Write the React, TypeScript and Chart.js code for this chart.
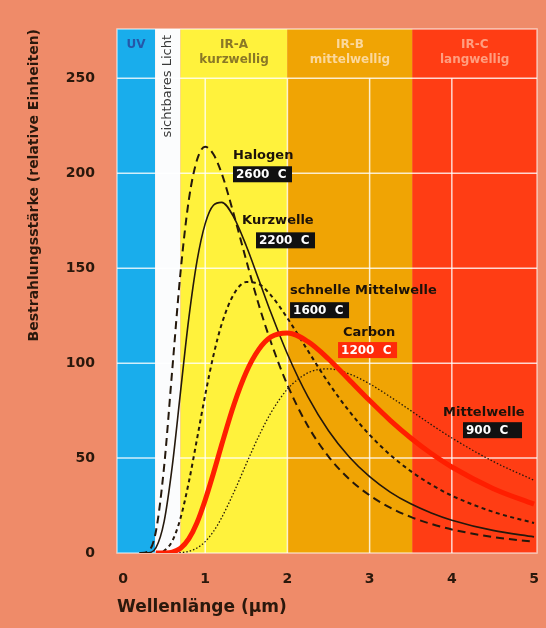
import React, { useEffect, useRef } from "react";
import { Chart, registerables } from "chart.js";

Chart.register(...registerables);

// ---- data ----
const wavelengths = [0.2, 0.3, 0.4, 0.5, 0.6, 0.7, 0.8, 0.9, 1.0, 1.1, 1.2, 1.35, 1.5, 1.65, 1.8, 2.0, 2.25, 2.5, 2.75, 3.0, 3.25, 3.5, 3.75, 4.0, 4.5, 5.0];
const halogen2600 = [0, 0.7, 11.3, 45.5, 97, 148, 185.8, 207, 214, 210, 200, 178, 154, 131, 111, 88.5, 66.8, 50.8, 39, 30.4, 23.9, 19, 15.3, 12.4, 8.4, 5.9];
const kurzwelle2200 = [0, 0.1, 2.7, 16.5, 46, 85, 123.4, 153.7, 173.5, 183.2, 184.7, 176.7, 161.7, 144.2, 126.5, 104.8, 82.2, 64.4, 50.7, 40.2, 32.1, 25.9, 21.1, 17.3, 11.9, 8.5];
const schnelleMittelwelle1600 = [null, null, 0.1, 1.2, 6.4, 18.4, 37.2, 60, 83.2, 104, 120.5, 136.5, 142.7, 141.7, 135.7, 123.7, 106.5, 89.6, 74.8, 62.2, 51.7, 43.1, 36, 30.2, 21.7, 15.8];
const carbon1200 = [null, null, 0, 0.05, 0.5, 2.5, 7.4, 15.9, 27.9, 42, 57, 78.2, 95.3, 107.1, 113.8, 115.9, 111.3, 102.2, 91.3, 80.3, 69.9, 60.6, 52.4, 45.3, 34, 25.7];
const mittelwelle900 = [null, null, null, null, 0, 0.2, 0.85, 2.6, 6, 11.3, 18.6, 32.1, 47, 61.4, 73.9, 86.3, 94.9, 97, 94.4, 89.1, 82.3, 75, 67.6, 60.6, 48.3, 38.3];

const seriesNames = ["Halogen", "Kurzwelle", "schnelle Mittelwelle", "Carbon", "Mittelwelle"];
const seriesTemps = ["2600  C", "2200  C", "1600  C", "1200  C", "900  C"];

const xTicks = [0, 1, 2, 3, 4, 5];
const yTicks = [0, 50, 100, 150, 200, 250];

// spectral bands (wavelength limits in µm)
const bandStarts = [-0.073, 0.39, 0.7, 2.0, 3.52];
const bandEnds = [0.39, 0.7, 2.0, 3.52, 5.036];
const bandTitle1 = ["UV", "", "IR-A", "IR-B", "IR-C"];
const bandTitle2 = ["", "sichtbares Licht", "kurzwellig", "mittelwellig", "langwellig"];

// ---- styling ----
const BG = "#EF8B69";
const TEXT = "#2a180c";
const FONT = "'DejaVu Sans', 'Liberation Sans', Arial, sans-serif";
const bandColors = ["#19ADEC", "#FBFCFD", "#FFF23C", "#F0A404", "#FF3D14"];
const bandTextColors = ["#2557a8", "#3a3a3a", "#8a7826", "#fbd89c", "#ff9e80"];
const labelSpots = [
  { nx: 1.338, ny: 209.5, bx: 1.338, by: 203.7, box: "#111111" },
  { nx: 1.448, ny: 175.3, bx: 1.618, by: 168.9, box: "#111111" },
  { nx: 2.032, ny: 138.4, bx: 2.032, by: 132.1, box: "#111111" },
  { nx: 2.676, ny: 116.3, bx: 2.616, by: 111.1, box: "#ff2a0a" },
  { nx: 3.893, ny: 74.2, bx: 4.136, by: 68.9, box: "#111111" },
];

const X_MIN = -0.073;
const X_MAX = 5.036;
const Y_MAX = 276;

const backdropPlugin = {
  id: "backdrop",
  beforeDraw(chart: any) {
    const { ctx, width, height } = chart;
    ctx.save();
    ctx.fillStyle = BG;
    ctx.fillRect(0, 0, width, height);
    ctx.restore();
  },
  beforeDatasetsDraw(chart: any) {
    const { ctx, chartArea: a, scales } = chart;
    const xs = scales.x;
    const ys = scales.y;
    ctx.save();
    for (let i = 0; i < bandStarts.length; i++) {
      const x0 = Math.max(a.left, xs.getPixelForValue(bandStarts[i]));
      const x1 = Math.min(a.right, xs.getPixelForValue(bandEnds[i]));
      ctx.fillStyle = bandColors[i];
      ctx.fillRect(x0, a.top, x1 - x0, a.bottom - a.top);
    }
    ctx.strokeStyle = "rgba(255,255,255,0.8)";
    ctx.lineWidth = 1.5;
    const yTop = ys.getPixelForValue(250);
    for (const v of [50, 100, 150, 200, 250]) {
      const py = ys.getPixelForValue(v);
      ctx.beginPath();
      ctx.moveTo(a.left, py);
      ctx.lineTo(a.right, py);
      ctx.stroke();
    }
    for (const v of [1, 2, 3, 4]) {
      const px = xs.getPixelForValue(v);
      ctx.beginPath();
      ctx.moveTo(px, a.bottom);
      ctx.lineTo(px, yTop);
      ctx.stroke();
    }
    ctx.strokeStyle = "rgba(255,255,255,0.6)";
    ctx.lineWidth = 1.5;
    ctx.strokeRect(a.left, a.top, a.right - a.left, a.bottom - a.top);
    ctx.textAlign = "center";
    ctx.textBaseline = "middle";
    ctx.font = `bold 12px ${FONT}`;
    for (let i = 0; i < bandStarts.length; i++) {
      const x0 = Math.max(a.left, xs.getPixelForValue(bandStarts[i]));
      const x1 = Math.min(a.right, xs.getPixelForValue(bandEnds[i]));
      const cx = (x0 + x1) / 2;
      ctx.fillStyle = bandTextColors[i];
      if (i === 1) {
        ctx.save();
        ctx.font = `13px ${FONT}`;
        ctx.translate(cx, a.top + 6);
        ctx.rotate(-Math.PI / 2);
        ctx.textAlign = "right";
        ctx.fillText(bandTitle2[i], 0, 0);
        ctx.restore();
        continue;
      }
      if (bandTitle1[i]) ctx.fillText(bandTitle1[i], cx, a.top + 16);
      if (bandTitle2[i]) ctx.fillText(bandTitle2[i], cx, a.top + 31);
    }
    ctx.restore();
  },
  afterDatasetsDraw(chart: any) {
    const { ctx, scales } = chart;
    const xs = scales.x;
    const ys = scales.y;
    ctx.save();
    for (let i = 0; i < seriesNames.length; i++) {
      const s = labelSpots[i];
      ctx.font = `bold 13px ${FONT}`;
      ctx.fillStyle = "#1c120a";
      ctx.textAlign = "left";
      ctx.textBaseline = "middle";
      ctx.fillText(seriesNames[i], xs.getPixelForValue(s.nx), ys.getPixelForValue(s.ny));
      const bx = xs.getPixelForValue(s.bx);
      const by = ys.getPixelForValue(s.by);
      ctx.fillStyle = s.box;
      ctx.fillRect(bx, by, 59, 16);
      ctx.fillStyle = "#ffffff";
      ctx.font = `bold 12px ${FONT}`;
      ctx.fillText(seriesTemps[i], bx + 3, by + 8.5);
    }
    ctx.restore();
  },
};

function series(values: (number | null)[], color: string, width: number, dash: number[]) {
  return {
    data: wavelengths.map((w, i) => ({ x: w, y: values[i] })),
    borderColor: color,
    borderWidth: width,
    borderDash: dash,
    pointRadius: 0,
    fill: false,
    cubicInterpolationMode: "monotone" as const,
    spanGaps: false,
  };
}

export default function App() {
  const canvasRef = useRef<HTMLCanvasElement | null>(null);

  useEffect(() => {
    if (!canvasRef.current) return;
    const tickFont = { family: FONT, size: 14, weight: "bold" as const };
    const chart = new Chart(canvasRef.current, {
      type: "line",
      data: {
        datasets: [
          { label: seriesNames[3], ...series(carbon1200, "#FF1E00", 5, []) },
          { label: seriesNames[0], ...series(halogen2600, "#24180c", 2, [8, 5]) },
          { label: seriesNames[1], ...series(kurzwelle2200, "#24180c", 1.6, []) },
          { label: seriesNames[2], ...series(schnelleMittelwelle1600, "#24180c", 2, [4, 3.5]) },
          { label: seriesNames[4], ...series(mittelwelle900, "#24180c", 1.3, [1.5, 2]) },
        ],
      },
      options: {
        animation: false,
        responsive: false,
        devicePixelRatio: 1,
        layout: { padding: { top: 29, right: 9, left: 0, bottom: 0 } },
        plugins: { legend: { display: false }, tooltip: { enabled: false } },
        scales: {
          x: {
            type: "linear",
            min: X_MIN,
            max: X_MAX,
            afterBuildTicks: (s: any) => {
              s.ticks = xTicks.map((v) => ({ value: v }));
            },
            afterFit: (s: any) => {
              s.height = 75;
              s.paddingLeft = 0;
              s.paddingRight = 0;
            },
            grid: { display: false, drawTicks: false },
            border: { display: false },
            ticks: { padding: 18, color: TEXT, font: tickFont, maxRotation: 0 },
            title: {
              display: true,
              text: "Wellenlänge (µm)",
              align: "start",
              color: TEXT,
              font: { family: FONT, size: 17, weight: "bold" },
              padding: { top: 0, bottom: 10 },
            },
          },
          y: {
            type: "linear",
            min: 0,
            max: Y_MAX,
            afterBuildTicks: (s: any) => {
              s.ticks = yTicks.map((v) => ({ value: v }));
            },
            afterFit: (s: any) => {
              s.width = 117;
              s.paddingTop = 0;
              s.paddingBottom = 0;
            },
            grid: { display: false, drawTicks: false },
            border: { display: false },
            ticks: { padding: 22, color: TEXT, font: tickFont },
            title: {
              display: true,
              text: "Bestrahlungsstärke (relative Einheiten)",
              align: "end",
              color: TEXT,
              font: { family: FONT, size: 14, weight: "bold" },
              padding: { top: 26, bottom: 0 },
            },
          },
        },
      },
      plugins: [backdropPlugin],
    });
    return () => chart.destroy();
  }, []);

  return (
    <div style={{ position: "fixed", left: 0, top: 0, width: 546, height: 628, background: BG }}>
      <canvas ref={canvasRef} width={546} height={628} style={{ display: "block", width: 546, height: 628 }} />
    </div>
  );
}
